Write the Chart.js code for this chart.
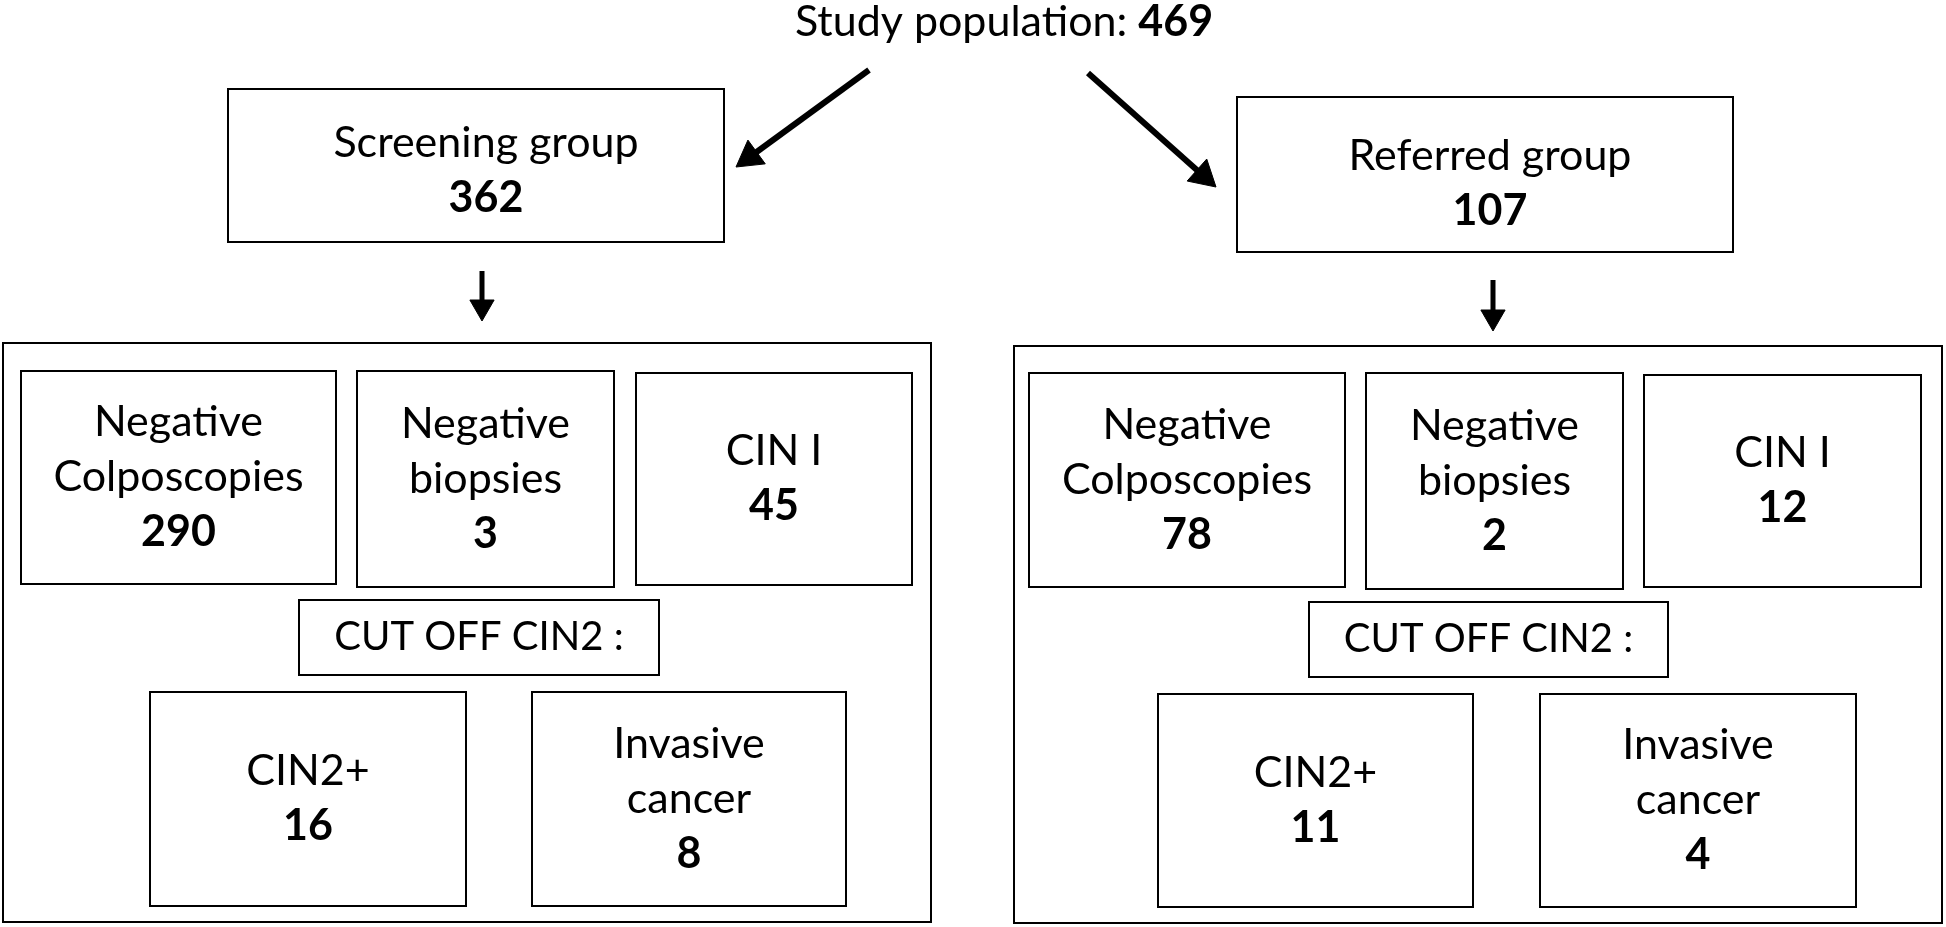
<!DOCTYPE html>
<html>
<head>
<meta charset="utf-8">
<title>Study population flow</title>
<script src="https://cdn.jsdelivr.net/npm/chart.js@4.4.1/dist/chart.umd.min.js"></script>
<style>
  html, body { margin: 0; padding: 0; background: #fff; }
  #flow { display: block; }
</style>
</head>
<body>
<canvas id="flow" width="1946" height="927"></canvas>
<script>
// values
const studyTitle = "Study population: ";
const studyTotal = 469;
const groupNames = ["Screening group", "Referred group"];
const groupTotals = [362, 107];
const outcomeLabels = [["Negative", "Colposcopies"], ["Negative", "biopsies"], ["CIN I"], ["CIN2+"], ["Invasive", "cancer"]];
const screeningCounts = [290, 3, 45, 16, 8];
const referredCounts = [78, 2, 12, 11, 4];
const cutoffLabel = "CUT OFF CIN2 :";

// layout, in page units [x0, y0, x1, y1]
const titlePos = [1004, 22];
const groupBoxes = [[228, 89, 724, 242], [1237, 97, 1733, 252]];
const groupTextShift = [[10, 5], [5, 9]];
const panelBoxes = [[3, 343, 931, 922], [1014, 346, 1942, 923]];
const outcomeBoxes = [
  [[21, 371, 336, 584], [357, 371, 614, 587], [636, 373, 912, 585], [150, 692, 466, 906], [532, 692, 846, 906]],
  [[1029, 373, 1345, 587], [1366, 373, 1623, 589], [1644, 375, 1921, 587], [1158, 694, 1473, 907], [1540, 694, 1856, 907]]
];
const cutoffBoxes = [[299, 600, 659, 675], [1309, 602, 1668, 677]];
const arrowPaths = [
  [[869, 70], [736, 167]],
  [[1088, 73], [1216, 187]],
  [[482, 271], [482, 321]],
  [[1493, 280], [1493, 331]]
];
const arrowWidths = [6, 6, 5, 5];
const arrowHeads = [17, 17, 14, 14];

const FONT = "Lato, 'Open Sans', sans-serif";
const FONT_SIZE = 43;
const CUTOFF_SIZE = 40;
const LINE_GAP = 55;

function rectDataset(b) {
  const pts = [[b[0], b[1]], [b[2], b[1]], [b[2], b[3]], [b[0], b[3]], [b[0], b[1]], [b[2], b[1]]];
  return {
    data: pts.map(([x, y]) => ({ x, y })),
    showLine: true,
    borderColor: "#000",
    borderWidth: 2,
    borderJoinStyle: "miter",
    pointRadius: 0,
    fill: false
  };
}

function arrowDataset(path, width, head) {
  const [from, tip] = path;
  const dx = tip[0] - from[0];
  const dy = tip[1] - from[1];
  const len = Math.hypot(dx, dy);
  const ux = dx / len, uy = dy / len;
  // the triangle marker is centred on its point, so pull it back from the tip
  const cx = tip[0] - ux * head;
  const cy = tip[1] - uy * head;
  const angle = Math.atan2(ux, -uy) * 180 / Math.PI;
  return {
    data: [{ x: from[0], y: from[1] }, { x: cx, y: cy }],
    showLine: true,
    borderColor: "#000",
    backgroundColor: "#000",
    borderWidth: width,
    pointStyle: "triangle",
    pointRadius: [0, head],
    pointBorderWidth: 1,
    rotation: [0, angle]
  };
}

const datasets = [];
groupBoxes.forEach((b) => datasets.push(rectDataset(b)));
panelBoxes.forEach((b) => datasets.push(rectDataset(b)));
outcomeBoxes.forEach((side) => side.forEach((b) => datasets.push(rectDataset(b))));
cutoffBoxes.forEach((b) => datasets.push(rectDataset(b)));
arrowPaths.forEach((p, i) => datasets.push(arrowDataset(p, arrowWidths[i], arrowHeads[i])));

function drawLines(ctx, lines, cx, cy, size) {
  const top = cy - (lines.length - 1) * LINE_GAP / 2;
  lines.forEach((ln, i) => {
    ctx.font = (ln.bold ? "bold " : "") + size + "px " + FONT;
    ctx.fillText(ln.text, cx, top + i * LINE_GAP);
  });
}

const textPlugin = {
  id: "flowText",
  afterDatasetsDraw(chart) {
    const { ctx } = chart;
    const sx = chart.scales.x, sy = chart.scales.y;
    const px = (v) => sx.getPixelForValue(v);
    const py = (v) => sy.getPixelForValue(v);
    ctx.save();
    ctx.fillStyle = "#000";
    ctx.textBaseline = "middle";

    // title: normal text followed by bold total
    ctx.font = FONT_SIZE + "px " + FONT;
    const w1 = ctx.measureText(studyTitle).width;
    ctx.font = "bold " + FONT_SIZE + "px " + FONT;
    const w2 = ctx.measureText(String(studyTotal)).width;
    const x0 = px(titlePos[0]) - (w1 + w2) / 2;
    ctx.textAlign = "left";
    ctx.font = FONT_SIZE + "px " + FONT;
    ctx.fillText(studyTitle, x0, py(titlePos[1]));
    ctx.font = "bold " + FONT_SIZE + "px " + FONT;
    ctx.fillText(String(studyTotal), x0 + w1, py(titlePos[1]));

    ctx.textAlign = "center";
    const counts = [screeningCounts, referredCounts];
    groupBoxes.forEach((b, g) => {
      const cx = px((b[0] + b[2]) / 2 + groupTextShift[g][0]);
      const cy = py((b[1] + b[3]) / 2 + groupTextShift[g][1]);
      drawLines(ctx, [{ text: groupNames[g] }, { text: String(groupTotals[g]), bold: true }], cx, cy, FONT_SIZE);

      outcomeBoxes[g].forEach((ob, k) => {
        const lines = outcomeLabels[k].map((t) => ({ text: t }));
        lines.push({ text: String(counts[g][k]), bold: true });
        drawLines(ctx, lines, px((ob[0] + ob[2]) / 2), py((ob[1] + ob[3]) / 2), FONT_SIZE);
      });

      const cb = cutoffBoxes[g];
      drawLines(ctx, [{ text: cutoffLabel }], px((cb[0] + cb[2]) / 2), py((cb[1] + cb[3]) / 2), CUTOFF_SIZE);
    });
    ctx.restore();
  }
};

const flowChart = new Chart(document.getElementById("flow").getContext("2d"), {
  type: "scatter",
  data: { datasets: datasets },
  options: {
    responsive: false,
    animation: false,
    layout: { padding: 0, autoPadding: false },
    scales: {
      x: { type: "linear", min: 0, max: 1946, display: false },
      y: { type: "linear", min: 0, max: 927, reverse: true, display: false }
    },
    plugins: {
      legend: { display: false },
      tooltip: { enabled: false }
    }
  },
  plugins: [textPlugin]
});
</script>
</body>
</html>
